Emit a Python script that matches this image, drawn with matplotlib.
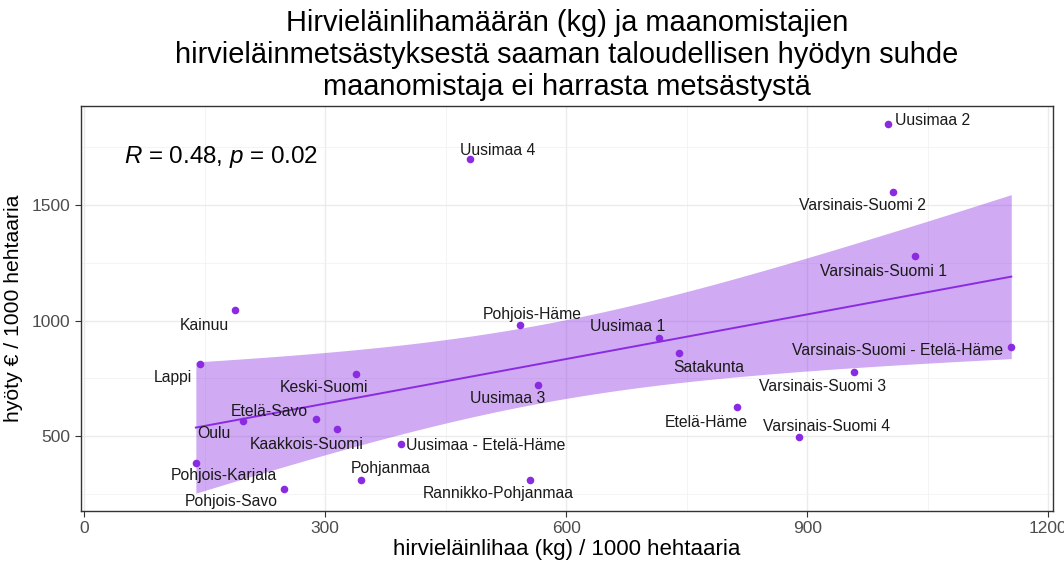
import numpy as np
import matplotlib
matplotlib.use("Agg")
from matplotlib import pyplot as plt
from matplotlib.ticker import MultipleLocator

plt.rcParams['font.family'] = ['Liberation Sans', 'DejaVu Sans']
plt.rcParams['mathtext.fontset'] = 'custom'
plt.rcParams['mathtext.rm'] = 'Liberation Sans'
plt.rcParams['mathtext.it'] = 'Liberation Sans:italic'

# data
alueet = ['Uusimaa 4', 'Kainuu', 'Uusimaa 2', 'Varsinais-Suomi 2', 'Varsinais-Suomi 1',
          'Pohjois-Häme', 'Lappi', 'Keski-Suomi', 'Uusimaa 3', 'Etelä-Savo', 'Oulu',
          'Kaakkois-Suomi', 'Pohjois-Karjala', 'Pohjois-Savo', 'Uusimaa - Etelä-Häme',
          'Pohjanmaa', 'Rannikko-Pohjanmaa', 'Uusimaa 1', 'Satakunta',
          'Varsinais-Suomi - Etelä-Häme', 'Varsinais-Suomi 3', 'Etelä-Häme',
          'Varsinais-Suomi 4']
liha = [480, 188, 1001, 1007, 1034, 542, 144, 338, 565, 289, 198,
        315, 139, 249, 394, 345, 555, 716, 741, 1154, 958, 813, 890]
hyoty = [1698, 1045, 1851, 1556, 1279, 980, 810, 768, 722, 575, 565,
         529, 384, 269, 464, 310, 310, 926, 858, 884, 778, 626, 497]

# label positions (text centre), roughly where ggrepel put them
lab_x = [515, 149, 1056, 969, 995, 558, 110, 299, 527, 230, 162,
         277, 174, 183, 500, 381, 516, 677, 777, 1012, 919, 774, 924]
lab_y = [1738, 980, 1868, 1496, 1214, 1028, 754, 711, 663, 608, 512,
         465, 327, 216, 457, 360, 252, 973, 796, 872, 713, 559, 540]

vari = '#8A2BE2'

x = np.array(liha, dtype=float)
y = np.array(hyoty, dtype=float)
n = len(x)

# linear fit + 95 % confidence band
b, a = np.polyfit(x, y, 1)
xs = np.linspace(x.min(), x.max(), 80)
ys = a + b * xs
res = y - (a + b * x)
s = np.sqrt(np.sum(res ** 2) / (n - 2))
t_krit = 2.08  # t(0.975, df=21)
se = s * np.sqrt(1 / n + (xs - x.mean()) ** 2 / np.sum((x - x.mean()) ** 2))

fig = plt.figure(figsize=(10.64, 5.63), dpi=100)
ax = fig.add_axes([0.0761, 0.0924, 0.9136, 0.7193])

ax.fill_between(xs, ys - t_krit * se, ys + t_krit * se, color=vari, alpha=0.4,
                linewidth=0, zorder=2)
ax.plot(xs, ys, color=vari, linewidth=1.4, zorder=3)
ax.scatter(x, y, s=30, color=vari, zorder=4, linewidths=0)

for nimi, tx, ty in zip(alueet, lab_x, lab_y):
    ax.text(tx, ty, nimi, ha='center', va='center', fontsize=11.3, color='#1a1a1a', zorder=5)

ax.text(50, 1708, r'$\it{R}$ = 0.48, $\it{p}$ = 0.02', fontsize=17.4, color='black',
        ha='left', va='center')

ax.set_xlim(-4, 1206)
ax.set_ylim(175, 1929)
ax.xaxis.set_major_locator(MultipleLocator(300))
ax.xaxis.set_minor_locator(MultipleLocator(150))
ax.yaxis.set_major_locator(MultipleLocator(500))
ax.yaxis.set_minor_locator(MultipleLocator(250))
ax.grid(which='major', color='#EBEBEB', linewidth=1.0, zorder=0)
ax.grid(which='minor', color='#F2F2F2', linewidth=0.6, zorder=0)
ax.set_axisbelow(True)
ax.tick_params(which='minor', length=0)
ax.tick_params(which='major', length=4, color='#333333', labelsize=12.5, labelcolor='#4D4D4D')
for sp in ax.spines.values():
    sp.set_color('#333333')
    sp.set_linewidth(1.0)

ax.set_xlabel('hirvieläinlihaa (kg) / 1000 hehtaaria', fontsize=16, labelpad=2)
ax.set_ylabel('hyöty € / 1000 hehtaaria', fontsize=15.2, labelpad=6)
ax.set_title('Hirvieläinlihamäärän (kg) ja maanomistajien\n'
             'hirvieläinmetsästyksestä saaman taloudellisen hyödyn suhde\n'
             'maanomistaja ei harrasta metsästystä',
             fontsize=20.9, linespacing=1.17, pad=8)

fig.savefig('out.png', dpi=100)
